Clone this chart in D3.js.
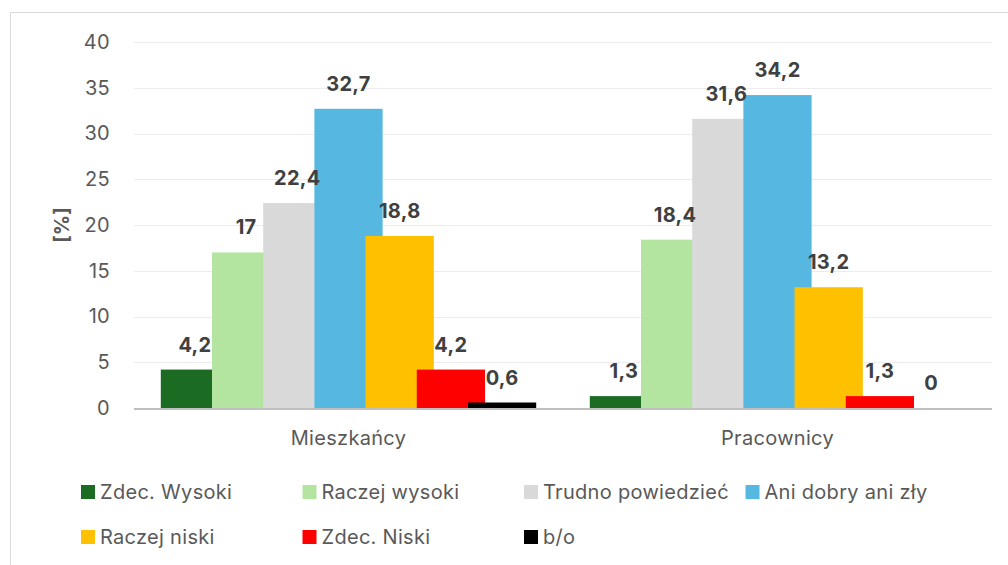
<!DOCTYPE html>
<html>
<head>
<meta charset="utf-8">
<script src="https://cdn.jsdelivr.net/npm/d3@7"></script>
<style>
  html, body { margin: 0; padding: 0; background: #fff; }
  svg { display: block; font-family: Inter, "Liberation Sans", sans-serif; }
</style>
</head>
<body>
<svg id="chart" width="1008" height="565"></svg>
<script>
// Data
const categories = ['Mieszkańcy', 'Pracownicy'];
const seriesNames = ['Zdec. Wysoki', 'Raczej wysoki', 'Trudno powiedzieć', 'Ani dobry ani zły', 'Raczej niski', 'Zdec. Niski', 'b/o'];
const mieszkancy = [4.2, 17, 22.4, 32.7, 18.8, 4.2, 0.6];
const pracownicy = [1.3, 18.4, 31.6, 34.2, 13.2, 1.3, 0];
const yTicks = [0, 5, 10, 15, 20, 25, 30, 35, 40];
const seriesColors = ['#1b6b23', '#b3e5a1', '#d9d9d9', '#56b8e0', '#ffc000', '#ff0000', '#000000'];

const values = [mieszkancy, pracownicy];

const svg = d3.select('#chart');
const width = 1008;
const height = 565;
const plot = { left: 134, right: 992, top: 42, bottom: 408 };
const fontSize = 20;
const spacing = '0.3px';

// Chart border
svg.append('rect')
  .attr('x', 10.5)
  .attr('y', 12.5)
  .attr('width', width + 20)
  .attr('height', height + 20)
  .attr('fill', '#fff')
  .attr('stroke', '#d9d9d9')
  .attr('stroke-width', 1);

// Scales
const x0 = d3.scaleBand()
  .domain(categories)
  .range([plot.left, plot.right])
  .padding(0);

const x1 = d3.scalePoint()
  .domain(seriesNames)
  .range([0, x0.bandwidth()])
  .padding(1.19);

const barWidth = x1.step() * 1.333;

const y = d3.scaleLinear()
  .domain([0, 40])
  .range([plot.bottom, plot.top]);

// Gridlines
svg.append('g')
  .selectAll('line')
  .data(yTicks.filter((d) => d > 0))
  .join('line')
  .attr('x1', plot.left)
  .attr('x2', plot.right)
  .attr('y1', (d) => Math.round(y(d)) + 0.5)
  .attr('y2', (d) => Math.round(y(d)) + 0.5)
  .attr('stroke', '#ececec')
  .attr('stroke-width', 1);

// Y axis labels
const yAxis = svg.append('g')
  .attr('transform', `translate(${plot.left},0)`)
  .call(d3.axisLeft(y).tickValues(yTicks).tickSize(0).tickPadding(24));
yAxis.select('.domain').remove();
yAxis.selectAll('text')
  .attr('font-size', fontSize)
  .attr('font-family', 'Inter, "Liberation Sans", sans-serif')
  .attr('letter-spacing', spacing)
  .attr('fill', '#595959');

// Y axis title
svg.append('text')
  .attr('transform', `translate(69,${(plot.top + plot.bottom) / 2}) rotate(-90)`)
  .attr('text-anchor', 'middle')
  .attr('font-size', fontSize)
  .attr('font-weight', 'bold')
  .attr('fill', '#595959')
  .text('[%]');

// Bars
const groups = svg.append('g')
  .selectAll('g')
  .data(categories)
  .join('g')
  .attr('transform', (d) => `translate(${x0(d)},0)`);

const barData = (ci) => seriesNames.map((s, si) => ({ series: s, si, value: values[ci][si] }));

groups.each(function (c, ci) {
  const g = d3.select(this);
  const data = barData(ci);

  g.selectAll('rect')
    .data(data)
    .join('rect')
    .attr('x', (d) => x1(d.series) - barWidth / 2)
    .attr('y', (d) => y(d.value))
    .attr('width', barWidth)
    .attr('height', (d) => y(0) - y(d.value))
    .attr('fill', (d) => seriesColors[d.si]);

  g.selectAll('text')
    .data(data)
    .join('text')
    .attr('x', (d) => x1(d.series))
    .attr('y', (d) => y(d.value) - 18)
    .attr('text-anchor', 'middle')
    .attr('font-size', fontSize)
    .attr('font-weight', 'bold')
    .attr('letter-spacing', spacing)
    .attr('fill', '#404040')
    .text((d) => String(d.value).replace('.', ','));
});

// Baseline
svg.append('line')
  .attr('x1', plot.left)
  .attr('x2', plot.right)
  .attr('y1', plot.bottom + 1)
  .attr('y2', plot.bottom + 1)
  .attr('stroke', '#bfbfbf')
  .attr('stroke-width', 2);

// Category labels
svg.append('g')
  .selectAll('text')
  .data(categories)
  .join('text')
  .attr('x', (d) => x0(d) + x0.bandwidth() / 2)
  .attr('y', 445)
  .attr('text-anchor', 'middle')
  .attr('font-size', fontSize)
  .attr('letter-spacing', spacing)
  .attr('fill', '#595959')
  .text((d) => d);

// Legend
const legend = svg.append('g')
  .selectAll('g')
  .data(seriesNames)
  .join('g')
  .attr('transform', (d, i) => `translate(${81 + (i % 4) * 221.5},${i < 4 ? 492 : 537})`);

legend.append('rect')
  .attr('x', 0)
  .attr('y', -7)
  .attr('width', 14)
  .attr('height', 14)
  .attr('fill', (d, i) => seriesColors[i]);

legend.append('text')
  .attr('x', 19)
  .attr('y', 7)
  .attr('font-size', fontSize)
  .attr('letter-spacing', spacing)
  .attr('fill', '#595959')
  .text((d) => d);
</script>
</body>
</html>
